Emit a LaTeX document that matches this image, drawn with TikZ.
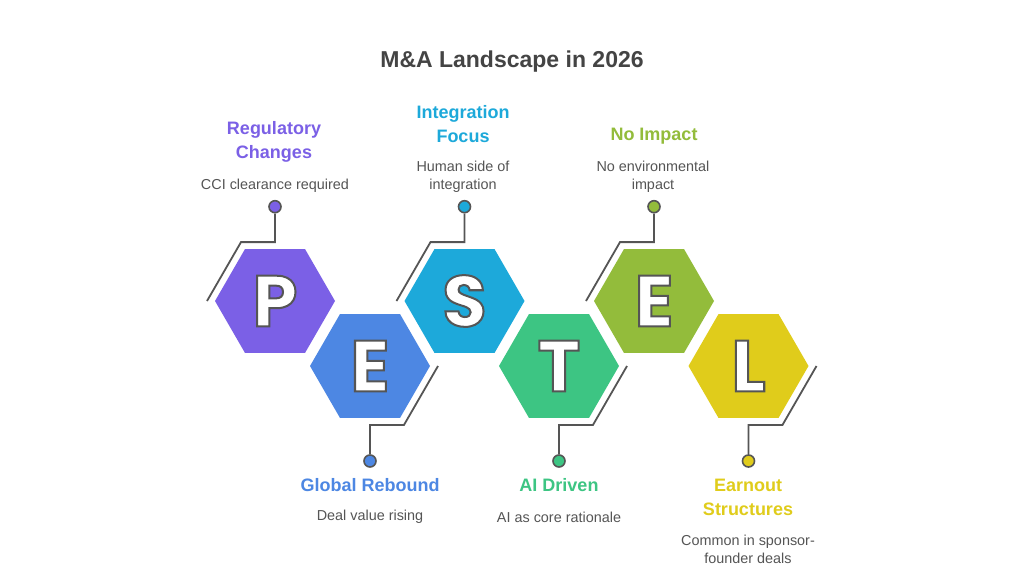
\documentclass[tikz,border=0pt]{standalone}
\usepackage{fontspec}
\setmainfont{Liberation Sans}
\newfontfamily\letterfont{Poppins}
\usetikzlibrary{shapes.geometric,calc}
\definecolor{cP}{HTML}{7B60E6}
\definecolor{cE}{HTML}{4D87E3}
\definecolor{cS}{HTML}{1DA9DA}
\definecolor{cT}{HTML}{3DC583}
\definecolor{cEn}{HTML}{93BC3B}
\definecolor{cL}{HTML}{E0CC1B}
\definecolor{lineg}{HTML}{555555}
\definecolor{txtg}{HTML}{555555}
\definecolor{titleg}{HTML}{444444}
\newcommand{\outl}[1]{\special{pdf:literal direct 2 Tr 2 w 0.333 0.333 0.333 RG}#1\special{pdf:literal direct 0 Tr}}
\begin{document}
\begin{tikzpicture}[x=1pt,y=-1pt,
  hex/.style={regular polygon, regular polygon sides=6, minimum size=120pt, inner sep=0pt, draw=none, fill=#1},
  letter/.style={font=\letterfont\bfseries\fontsize{72}{72}\selectfont, text=white, inner sep=0pt},
  conn/.style={draw=lineg, line width=1.8pt},
  dot/.style={circle, minimum size=12pt, inner sep=0pt, fill=#1, draw=lineg, line width=1.6pt},
  head/.style={font=\bfseries\fontsize{18}{24}\selectfont, text=#1, align=center, inner sep=0pt},
  desc/.style={font=\fontsize{14.4}{18}\selectfont, text=txtg, align=center, inner sep=0pt}]
\useasboundingbox[fill=white] (0,0) rectangle (1024,576);

\node[font=\bfseries\fontsize{23}{26}\selectfont, text=titleg] (title) at (512,62) {M\&A Landscape in 2026};

% hexagons
\node[hex=cP]  (hP)  at (275,301) {};
\node[hex=cE]  (hE)  at (370,366) {};
\node[hex=cS]  (hS)  at (464.5,301) {};
\node[hex=cT]  (hT)  at (559,366) {};
\node[hex=cEn] (hEn) at (654,301) {};
\node[hex=cL]  (hL)  at (748.5,366) {};

\node[letter] (lP)  at (hP)  {\outl{P}};
\node[letter] (lE)  at (hE)  {\outl{E}};
\node[letter] (lS)  at (hS)  {\outl{S}};
\node[letter] (lT)  at (hT)  {\outl{T}};
\node[letter] (lEn) at (hEn) {\outl{E}};
\node[letter] (lL)  at (hL)  {\outl{L}};

% dots
\node[dot=cP]  (dP)  at (275,206.7) {};
\node[dot=cS]  (dS)  at (464.5,206.7) {};
\node[dot=cEn] (dEn) at (654,206.7) {};
\node[dot=cE]  (dE)  at (370,461) {};
\node[dot=cT]  (dT)  at (559,461) {};
\node[dot=cL]  (dL)  at (748.5,461) {};

% connectors
\foreach \h/\d in {hP/dP, hS/dS, hEn/dEn}{
  \draw[conn] ($(\h)+(-68,0)$) -- ++(34,-58.9) -| (\d);
}
\foreach \h/\d in {hE/dE, hT/dT, hL/dL}{
  \draw[conn] ($(\h)+(68,0)$) -- ++(-34,58.9) -| (\d);
}

% labels
\node[head=cP]  (tP)  at (274,142) {Regulatory\\Changes};
\node[desc]     (sP)  at (275,186) {CCI clearance required};
\node[head=cS]  (tS)  at (463,124) {Integration\\Focus};
\node[desc]     (sS)  at (463,177) {Human side of\\integration};
\node[head=cEn] (tEn) at (654,136) {No Impact};
\node[desc]     (sEn) at (653,177) {No environmental\\impact};
\node[head=cE]  (tE)  at (370,485) {Global Rebound};
\node[desc]     (sE)  at (370,517) {Deal value rising};
\node[head=cT]  (tT)  at (559,485) {AI Driven};
\node[desc]     (sT)  at (559,517) {AI as core rationale};
\node[head=cL]  (tL)  at (748,497) {Earnout\\Structures};
\node[desc]     (sL)  at (748,549.5) {Common in sponsor-\\founder deals};
\end{tikzpicture}
\end{document}
